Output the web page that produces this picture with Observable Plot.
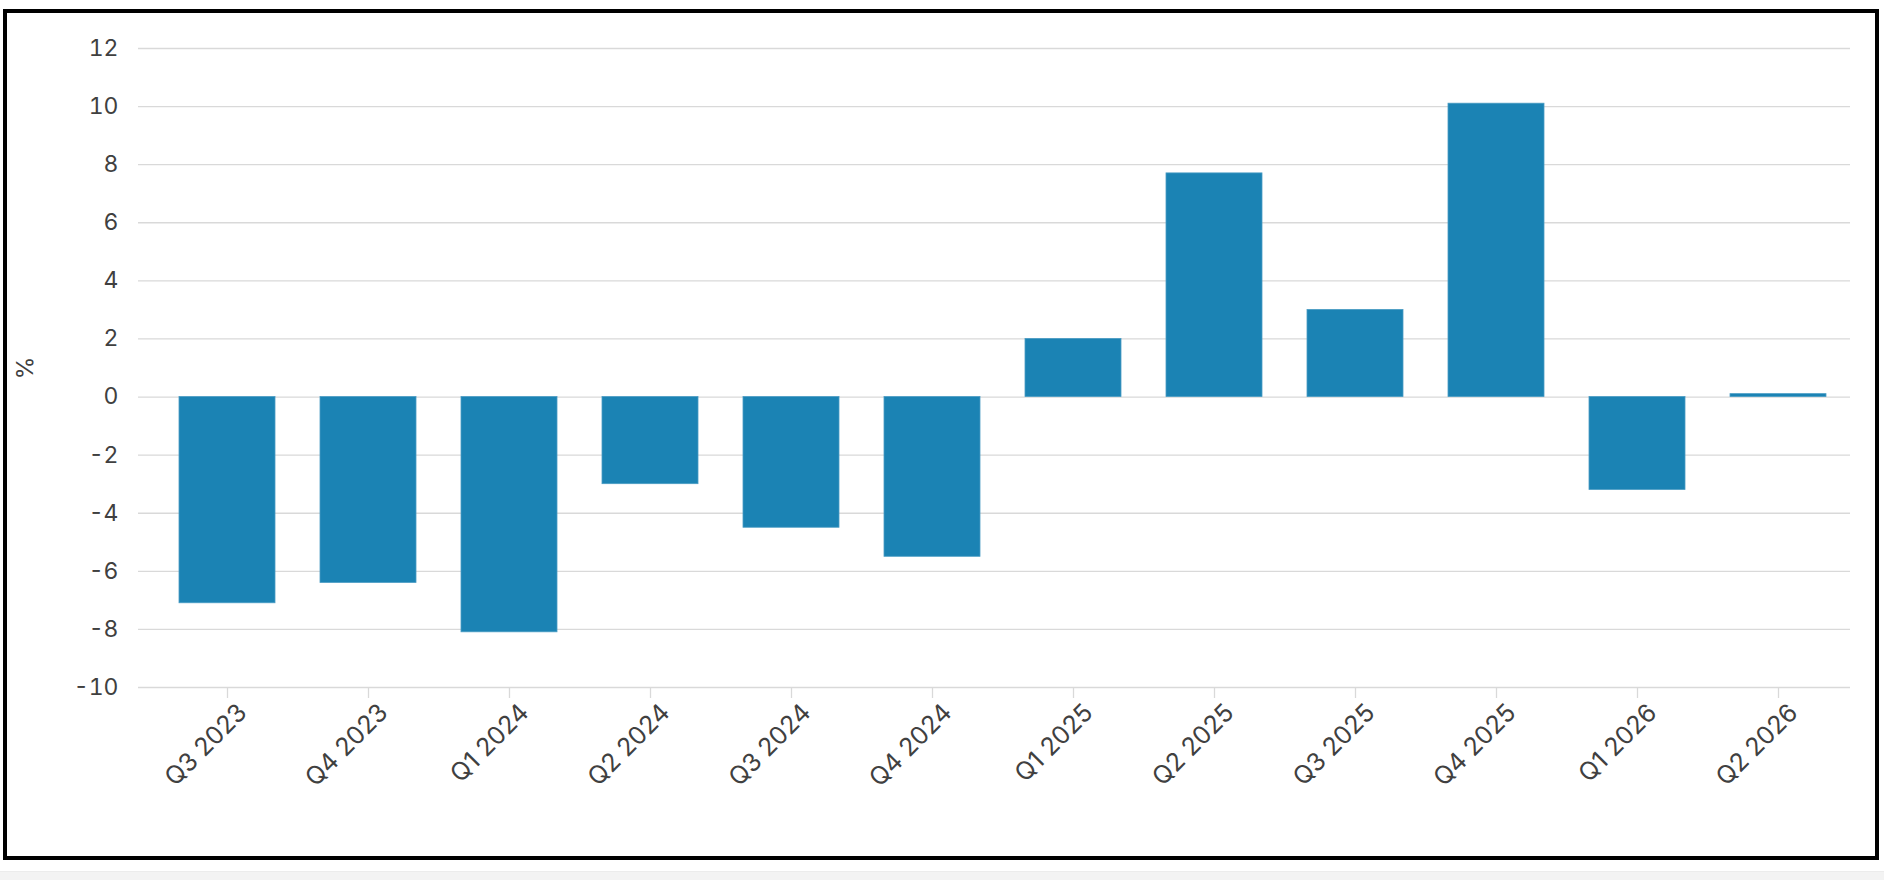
<!DOCTYPE html>
<html><head><meta charset="utf-8">
<script src="https://cdn.jsdelivr.net/npm/d3@7"></script>
<script src="https://cdn.jsdelivr.net/npm/@observablehq/plot@0.6"></script>
<style>
html,body{margin:0;padding:0;background:#fff;}
#wrap{position:relative;width:1884px;height:880px;overflow:hidden;background:#fff;}
#frame{position:absolute;left:3px;top:9px;width:1868px;height:843px;border:4.5px solid #000;box-sizing:content-box;pointer-events:none;}
#strip{position:absolute;left:0;top:871px;width:1884px;height:9px;background:#f3f3f3;border-top:1px solid #ececec;}
#chart{position:absolute;left:0;top:0;}
</style></head><body>
<div id="wrap"><div id="strip"></div><div id="chart"></div><div id="frame"></div></div>
<script>
const quarters = ["Q3 2023","Q4 2023","Q1 2024","Q2 2024","Q3 2024","Q4 2024","Q1 2025","Q2 2025","Q3 2025","Q4 2025","Q1 2026","Q2 2026"];
const changes = [-7.1,-6.4,-8.1,-3.0,-4.5,-5.5,2.0,7.7,3.0,10.1,-3.2,0.1];
const yTicks = [-10,-8,-6,-4,-2,0,2,4,6,8,10,12];
const yLabel = "%";

const data = quarters.map((q, i) => ({quarter: q, value: changes[i]}));
const textColor = "#404040";
const gridColor = "#d9d9d9";
const barColor = "#1B83B4";

const chart = Plot.plot({
  width: 1884,
  height: 880,
  marginLeft: 138,
  marginRight: 34,
  marginTop: 48,
  marginBottom: 193,
  style: {fontFamily: "Inter, 'Open Sans', sans-serif", fontSize: "23px", color: textColor, background: "transparent", overflow: "visible"},
  x: {domain: quarters, range: [155.4, 1849.6], paddingInner: 0.32, paddingOuter: 0.16},
  y: {domain: [-10, 12]},
  marks: [
    Plot.ruleY(yTicks, {stroke: gridColor, strokeWidth: 1.3}),
    Plot.barY(data, {x: "quarter", y: "value", fill: barColor, stroke: "#4a9cc4", strokeWidth: 0.8}),
    Plot.axisY({ticks: yTicks, tickSize: 0, tickPadding: 20, tickFormat: d => String(d), fill: textColor,
      label: yLabel, labelAnchor: "center", labelArrow: "none", labelOffset: 122}),
    Plot.axisX({text: null, tickSize: 11, stroke: gridColor, strokeWidth: 1.3, label: null}),
    Plot.axisX({tickSize: 0, tickPadding: 21, tickRotate: -45, dx: 15, fill: textColor, fontSize: 25, label: null})
  ]
});
document.getElementById("chart").appendChild(chart);
</script>
</body></html>
